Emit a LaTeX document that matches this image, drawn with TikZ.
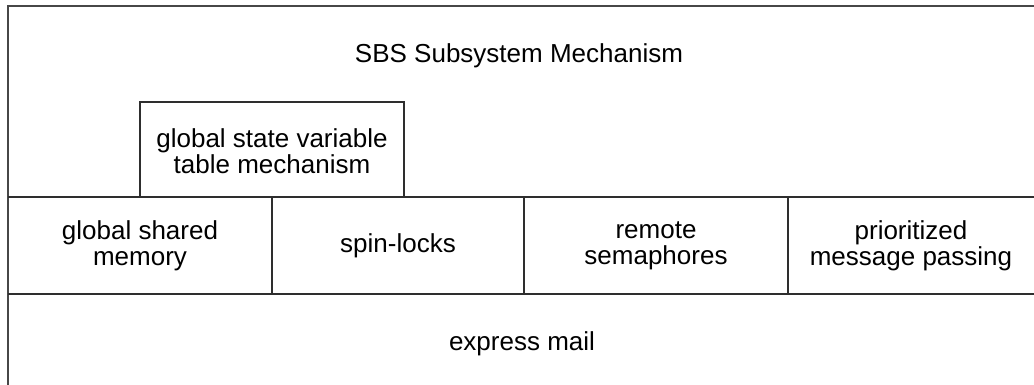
\documentclass[tikz,border=0pt]{standalone}
\usepackage{fontspec}
\setmainfont{Liberation Sans}
\begin{document}
\begin{tikzpicture}[x=1pt,y=-1pt,
  frameline/.style={draw=black!72,line width=2pt},
  cellline/.style={draw=black!82,line width=1.5pt},
  label/.style={align=center,font=\fontsize{26}{26}\selectfont,text=black,inner sep=0pt}]
  \useasboundingbox (0,0) rectangle (1034,385);
  % outer frame: open on the right and at the bottom
  \draw[frameline] (1034,6) -- (8,6) -- (8,385);
  % layer boundaries
  \draw[cellline] (8,197) -- (1034,197);
  \draw[cellline] (8,294) -- (1034,294);
  % cell dividers of the middle layer
  \draw[cellline] (272,197) -- (272,294);
  \draw[cellline] (524,197) -- (524,294);
  \draw[cellline] (788,197) -- (788,294);
  % raised table box
  \draw[cellline] (140,197) -- (140,102) -- (404,102) -- (404,197);
  % texts
  \node[label] (sbs) at (519,56) {SBS Subsystem Mechanism};
  \node[label] (gsv) at (272,151) {global state variable\\table mechanism};
  \node[label] (gsm) at (140,246) {global shared\\memory};
  \node[label] (spin) at (398,246) {spin-locks};
  \node[label] (sem) at (656,246) {remote\\semaphores};
  \node[label] (pmp) at (911,246) {prioritized\\message passing};
  \node[label] (mail) at (522,344) {express mail};
\end{tikzpicture}
\end{document}
